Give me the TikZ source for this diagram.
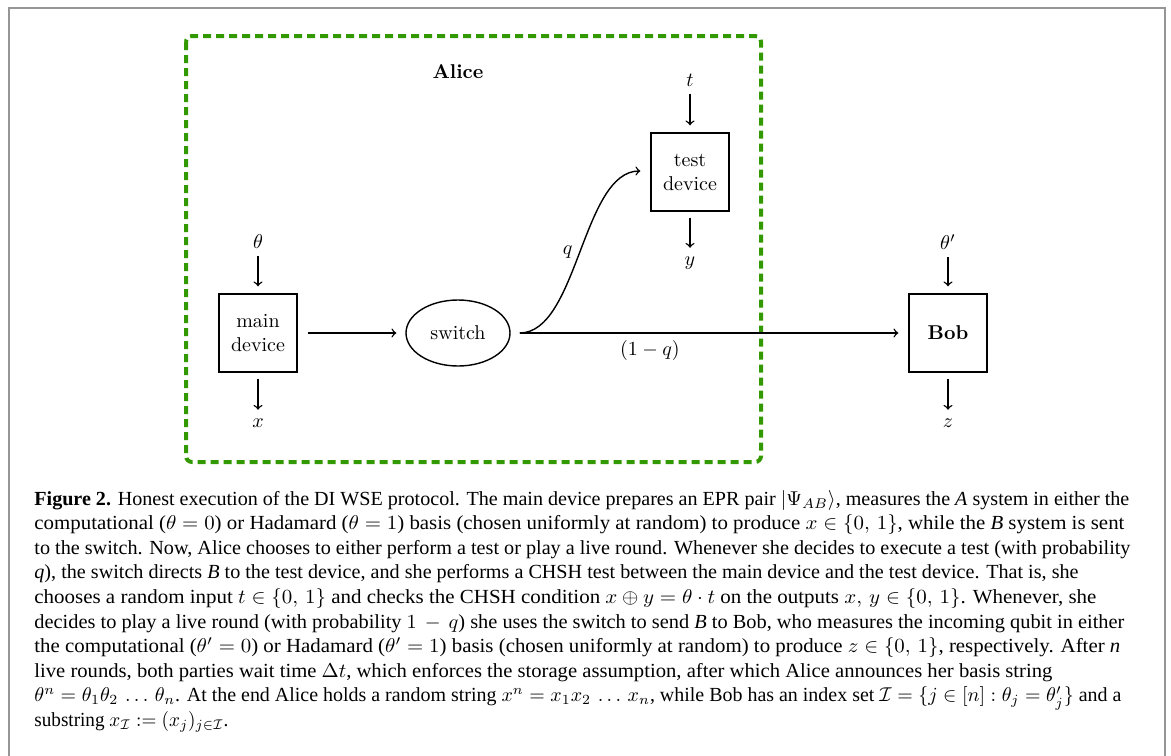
\documentclass[tikz,border=0pt]{standalone}
\usepackage{fontspec}
\usetikzlibrary{shapes.geometric}
\newfontfamily\capfont{Liberation Serif}
\definecolor{alicegreen}{RGB}{51,153,0}
\definecolor{framegray}{RGB}{150,150,150}
\newcommand{\capline}[4]{\node[anchor=base west,inner sep=0pt] (#1) at (34,#2) {\capfont\fontsize{10}{12}\selectfont\resizebox{#3}{\height}{#4}};}
\begin{document}
\begin{tikzpicture}[x=0.5pt,y=-0.5pt,
  box/.style={draw,line width=0.7pt,minimum width=39pt,minimum height=39pt,align=center,inner sep=2pt},
  sw/.style={draw,ellipse,line width=0.7pt,minimum width=52pt,minimum height=33pt,inner sep=0pt},
  lab/.style={inner sep=0pt},
  arr/.style={->,line width=0.7pt},
  inarr/.style={arr,shorten <=3.5pt,shorten >=3.5pt},
  outarr/.style={arr,shorten <=3pt,shorten >=4.3pt}]
\useasboundingbox (0,0) rectangle (1171,755);
% outer frame
\draw[framegray,line width=1.1pt] (9,760) -- (9,8) -- (1165,8) -- (1165,760);
% Alice region
\draw[alicegreen,line width=2pt,dash pattern=on 4pt off 2.5pt,rounded corners=3pt] (186,36) rectangle (761,462);
\node (alice) at (458,72) {\textbf{Alice}};
% nodes
\node[box] (main) at (258,333) {main\\device};
\node[sw] (switch) at (458,333) {switch};
\node[box] (test) at (690,172) {test\\device};
\node[box] (bob) at (948,333) {\textbf{Bob}};
% labels
\node[lab] (theta) at (258,242) {$\theta$};
\node[lab] (xout) at (258,423) {$x$};
\node[lab] (tin) at (690,80) {$t$};
\node[lab] (yout) at (690,263) {$y$};
\node[lab] (thetap) at (948,242) {$\theta'$};
\node[lab] (zout) at (948,423) {$z$};
% connectors
\draw[inarr] (theta) -- (main);
\draw[outarr] (main) -- (xout);
\draw[inarr] (tin) -- (test);
\draw[outarr] (test) -- (yout);
\draw[inarr] (thetap) -- (bob);
\draw[outarr] (bob) -- (zout);
\draw[arr,shorten <=5pt,shorten >=4.5pt] (main) -- (switch);
\draw[arr,shorten <=4.5pt,shorten >=5pt] (switch.east) -- node[pos=0.35,below] {$(1-q)$} (bob.west);
\draw[arr] ([xshift=4.5pt]switch.east) .. controls +(29pt,0) and +(-29pt,0) .. ([xshift=-5pt,yshift=0.5pt]test.west) node[pos=0.5,left] {$q$};
% caption
\capline{c1}{505}{547.5pt}{\textbf{Figure 2.} Honest execution of the DI WSE protocol. The main device prepares an EPR pair $|\Psi_{AB}\rangle$, measures the \textit{A} system in either the}
\capline{c2}{529.6}{545pt}{computational ($\theta=0$) or Hadamard ($\theta=1$) basis (chosen uniformly at random) to produce $x\in\{0,\,1\}$, while the \textit{B} system is sent}
\capline{c3}{554.2}{548pt}{to the switch. Now, Alice chooses to either perform a test or play a live round. Whenever she decides to execute a test (with probability}
\capline{c4}{578.8}{522pt}{\textit{q}), the switch directs \textit{B} to the test device, and she performs a CHSH test between the main device and the test device. That is, she}
\capline{c5}{603.4}{531pt}{chooses a random input $t\in\{0,\,1\}$ and checks the CHSH condition $x\oplus y=\theta\cdot t$ on the outputs $x,\,y\in\{0,\,1\}$. Whenever, she}
\capline{c6}{628}{545pt}{decides to play a live round (with probability $1\,-\,q$) she uses the switch to send \textit{B} to Bob, who measures the incoming qubit in either}
\capline{c7}{652.6}{543pt}{the computational ($\theta'=0$) or Hadamard ($\theta'=1$) basis (chosen uniformly at random) to produce $z\in\{0,\,1\}$, respectively. After \textit{n}}
\capline{c8}{677.2}{509pt}{live rounds, both parties wait time $\Delta t$, which enforces the storage assumption, after which Alice announces her basis string}
\capline{c9}{701.8}{543.5pt}{$\theta^n=\theta_1\theta_2\,\ldots\,\theta_n$. At the end Alice holds a random string $x^n=x_1x_2\,\ldots\,x_n$, while Bob has an index set $\mathcal{I}=\{j\in[n]:\theta_j=\theta'_j\}$ and a}
\capline{c10}{726.4}{97pt}{substring $x_{\mathcal{I}}:=(x_j)_{j\in\mathcal{I}}$.}
\end{tikzpicture}
\end{document}
